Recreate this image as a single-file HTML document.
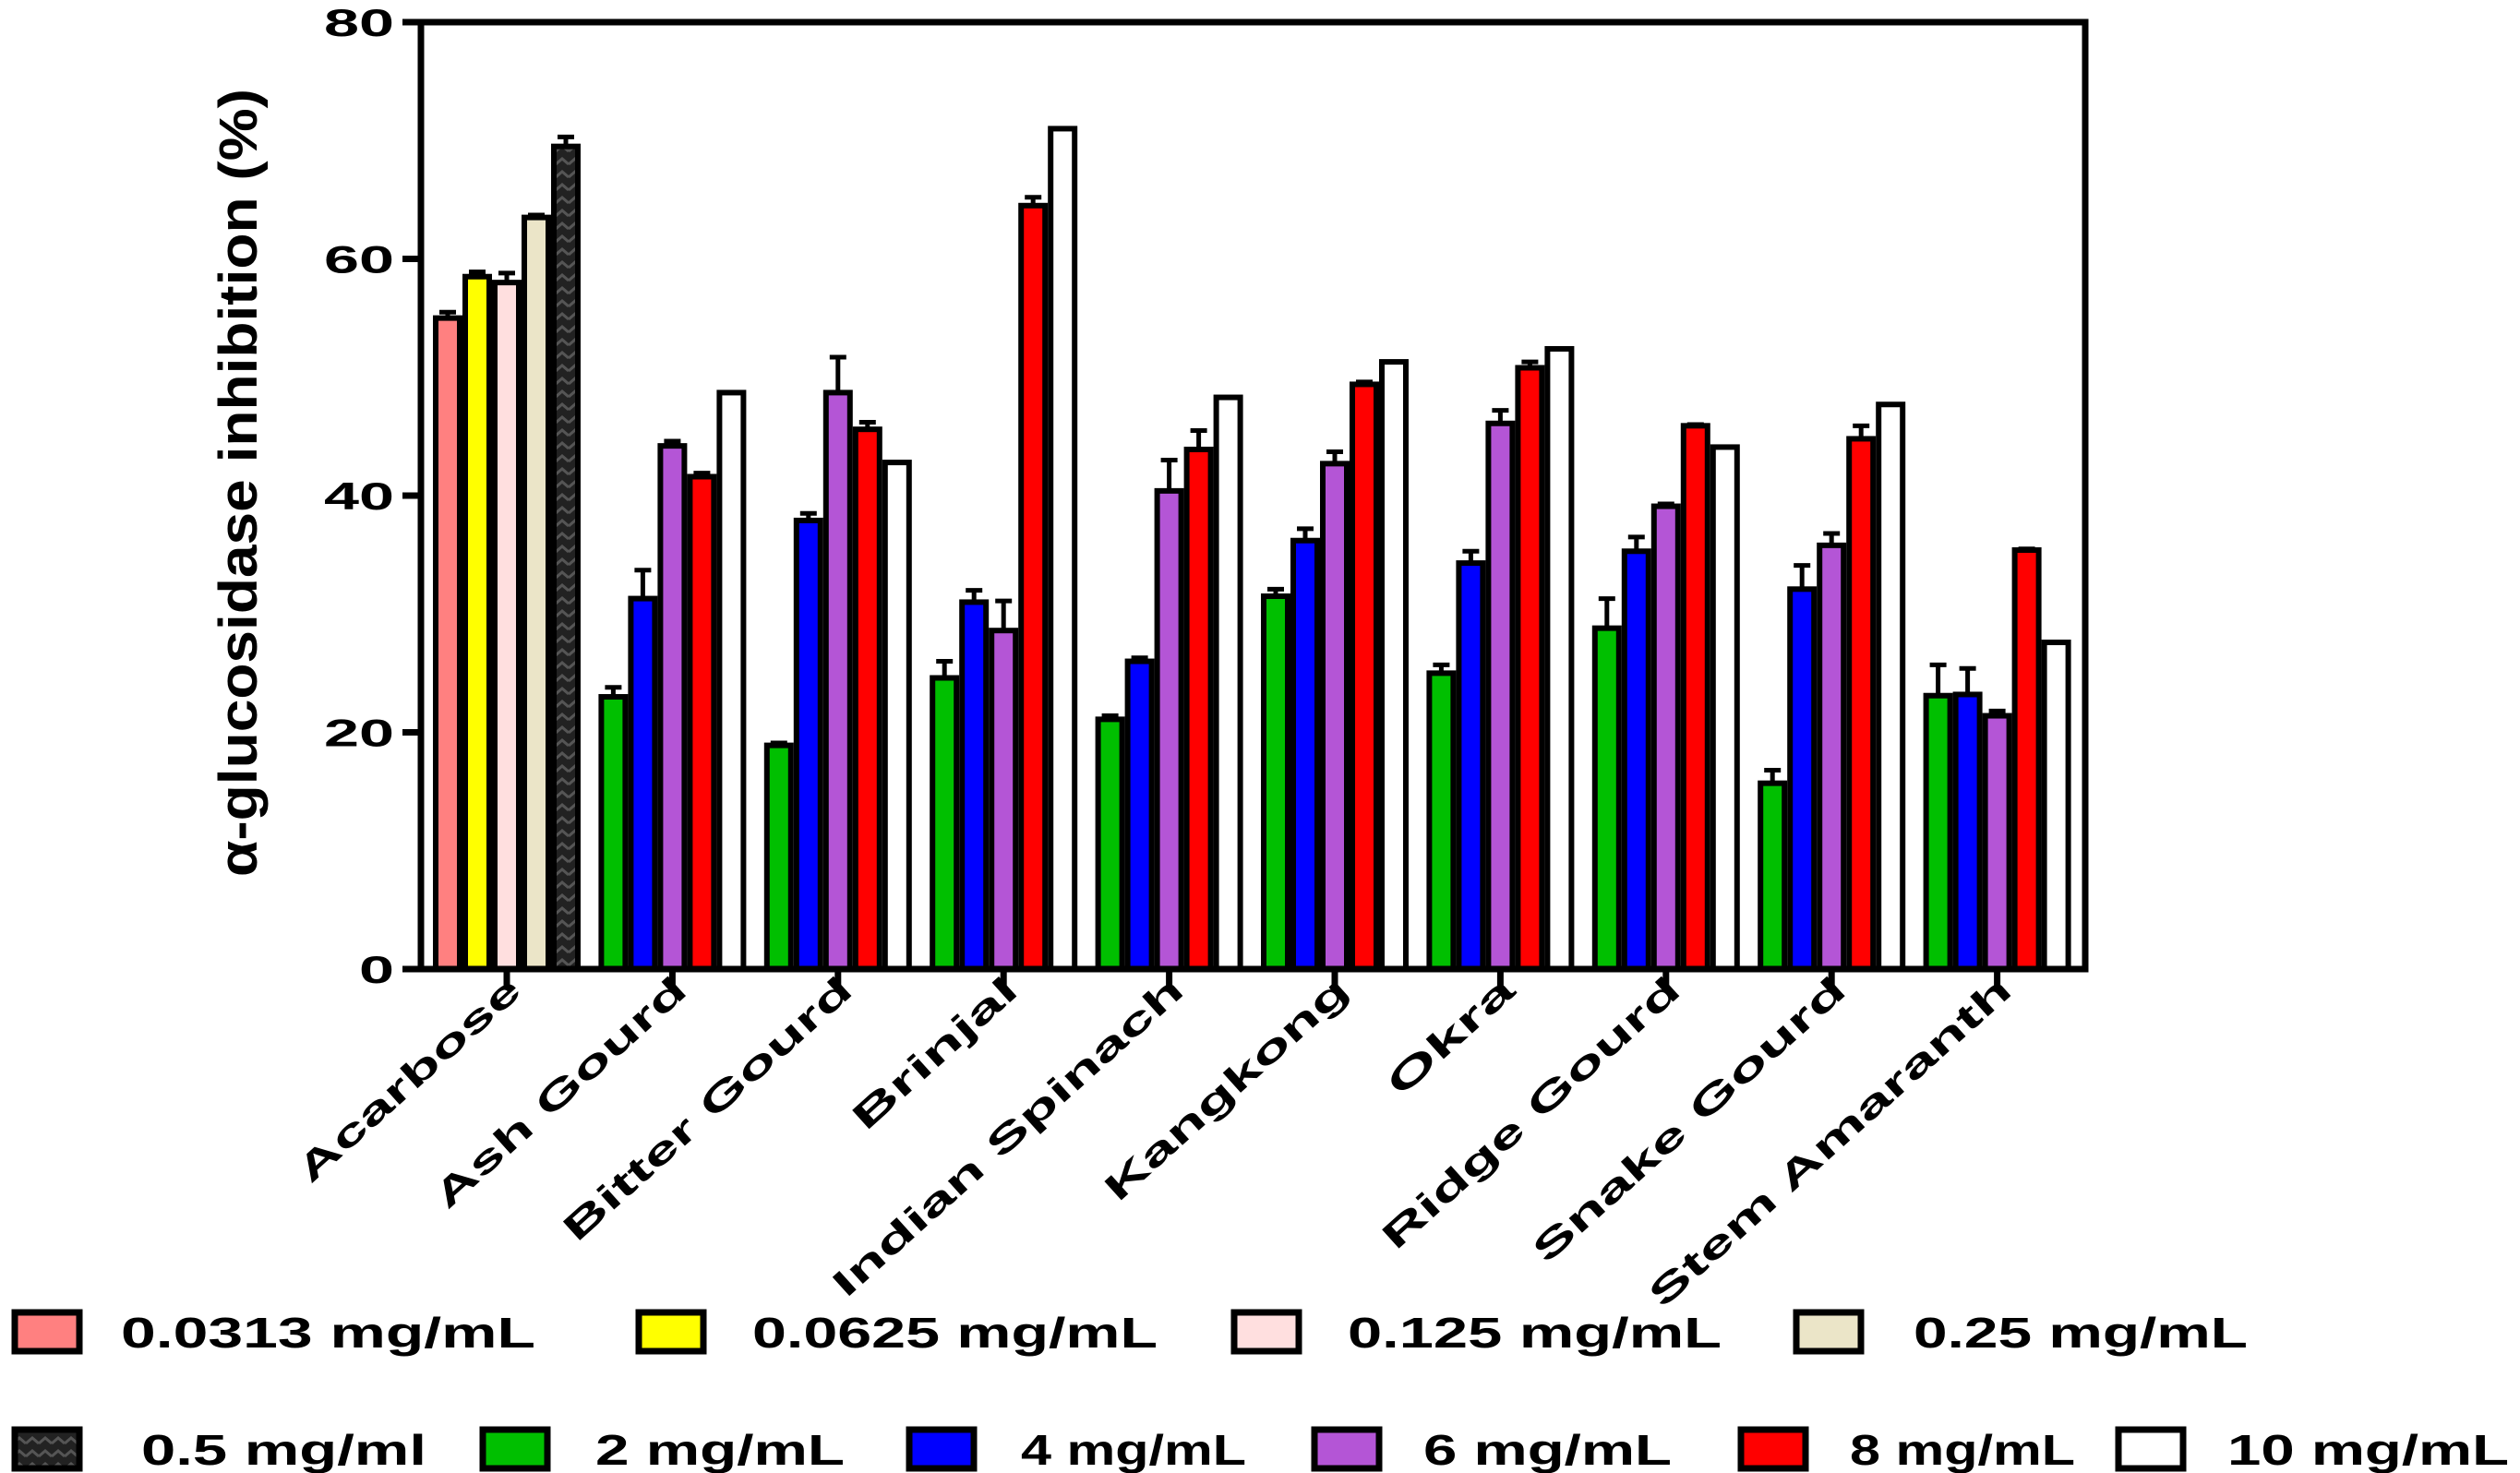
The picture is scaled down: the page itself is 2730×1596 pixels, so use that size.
<!DOCTYPE html>
<html><head><meta charset="utf-8">
<style>html,body{margin:0;padding:0;background:#fff}svg{display:block}
text{font-family:"Liberation Sans",sans-serif;font-weight:bold;fill:#000}</style></head>
<body>
<svg id="chart" width="2730" height="1596" viewBox="0 0 2730 1596" xmlns="http://www.w3.org/2000/svg">
<defs>
<pattern id="hatch" width="14" height="14" patternUnits="userSpaceOnUse">
<rect width="14" height="14" fill="#222"/>
<path d="M0 10 L7 4 L14 10" stroke="#555" stroke-width="3" fill="none"/>
</pattern>
</defs>
<g id="plot"></g>
<g id="legend"></g>
</svg>
<script>
const categories = ["Acarbose","Ash Gourd","Bitter Gourd","Brinjal","Indian Spinach","Kangkong","Okra","Ridge Gourd","Snake Gourd","Stem Amaranth"];
const labelLengths = [310,352,405,225,495,340,170,418,440,512];
const yTicks = [0,20,40,60,80];
const acarboseSeries = ["0.0313 mg/mL","0.0625 mg/mL","0.125 mg/mL","0.25 mg/mL","0.5 mg/ml"];
const acarboseValues = [55.0,58.5,58.0,63.5,69.5];
const acarboseErrors = [0.5,0.4,0.8,0.2,0.8];
const plantSeries = ["2 mg/mL","4 mg/mL","6 mg/mL","8 mg/mL","10 mg/mL"];
const plantValues = [
 [23.0,31.3,44.2,41.6,48.7],
 [18.9,37.9,48.7,45.6,42.8],
 [24.6,31.0,28.6,64.5,71.0],
 [21.1,26.0,40.4,43.9,48.3],
 [31.5,36.2,42.7,49.4,51.3],
 [25.0,34.3,46.1,50.8,52.4],
 [28.8,35.3,39.1,45.9,44.1],
 [15.7,32.1,35.8,44.8,47.7],
 [23.1,23.2,21.4,35.4,27.6]];
const plantErrors = [
 [0.8,2.4,0.4,0.3,0],
 [0.2,0.6,3.0,0.6,0],
 [1.4,1.0,2.5,0.7,0],
 [0.3,0.3,2.6,1.6,0],
 [0.6,1.0,1.0,0.2,0],
 [0.7,1.0,1.1,0.5,0],
 [2.5,1.2,0.2,0.1,0],
 [1.1,2.0,1.0,1.1,0],
 [2.6,2.2,0.4,0.1,0]];
const acarboseColors = ["#ff8080","#ffff00","#ffdfdf","#ebe5c8","url(#hatch)"];
const plantColors = ["#00bf00","#0000ff","#b455d6","#ff0000","#ffffff"];

const NS="http://www.w3.org/2000/svg";
const L=456,R=2259,T=24,B=1050;
const y=v=>B-(v/80)*(B-T);
const cx=i=>549+i*179.4;
const BW=32;
function mk(tag,attrs,parent){const e=document.createElementNS(NS,tag);for(const k in attrs)e.setAttribute(k,attrs[k]);parent.appendChild(e);return e;}
const plot=document.getElementById('plot');

function bar(i,j,v,err,fill,name){
  const x=cx(i)-2.5*BW+j*BW;
  if(err>0){
    const eb=mk('line',{x1:x+BW/2,x2:x+BW/2,y1:y(v),y2:y(v+err),stroke:'#000','stroke-width':5},plot);
    
    
    const cap=mk('line',{x1:x+BW/2-9,x2:x+BW/2+9,y1:y(v+err),y2:y(v+err),stroke:'#000','stroke-width':5},plot);
    
    
  }
  const r=mk('rect',{x:x+3,y:y(v),width:BW-6,height:B-y(v),fill:fill,stroke:'#000','stroke-width':6},plot);
  
  
}
acarboseValues.forEach((v,j)=>bar(0,j,v,acarboseErrors[j],acarboseColors[j],'bar-acarbose-'+j));
plantValues.forEach((row,k)=>row.forEach((v,j)=>bar(k+1,j,v,plantErrors[k][j],plantColors[j],'bar-'+categories[k+1].toLowerCase().replace(/ /g,'-')+'-'+j)));

const fr=mk('rect',{x:L,y:T,width:R-L,height:B-T,fill:'none',stroke:'#000','stroke-width':7},plot);


yTicks.forEach(t=>{
  const tk=mk('line',{x1:436,x2:L,y1:y(t),y2:y(t),stroke:'#000','stroke-width':7},plot);
  
  
  const s=String(t);
  const tx=mk('text',{x:427,y:y(t)+15,'text-anchor':'end','font-size':42,textLength:s.length*38,lengthAdjust:'spacingAndGlyphs'},plot);
  tx.textContent=s;
  
  
});
categories.forEach((c,i)=>{
  const tk=mk('line',{x1:cx(i),x2:cx(i),y1:B,y2:1068,stroke:'#000','stroke-width':7},plot);
  
  
  const tx=mk('text',{x:0,y:0,'text-anchor':'end','font-size':40,textLength:labelLengths[i],lengthAdjust:'spacingAndGlyphs',transform:`translate(${cx(i)+18},${1076}) rotate(-42)`},plot);
  tx.textContent=c;
  
  
});
const yt=mk('text',{x:0,y:0,'text-anchor':'middle','font-size':58,textLength:854,lengthAdjust:'spacingAndGlyphs',transform:'translate(278,523) rotate(-90)'},plot);
yt.textContent='α-glucosidase inhibition (%)';



const leg=document.getElementById('legend');
const legendLabels=acarboseSeries.concat(plantSeries);
const legendFills=acarboseColors.concat(plantColors);
const legendBoxX=[12,688,1333,1942, 12,519,981,1420,1882,2291];
const legendTextX=[131,815,1460,2073, 153,645,1106,1542,2004,2413];
const legendTextEnd=[580,1254,1865,2435, 462,915,1350,1811,2248,2718];
legendLabels.forEach((lab,k)=>{
  const row=k<4?0:1;
  const by=row?1549:1422;
  const b=mk('rect',{x:legendBoxX[k]+4,y:by,width:70,height:42,fill:legendFills[k],stroke:'#000','stroke-width':7},leg);
  
  
  const t=mk('text',{x:legendTextX[k],y:by+38,'font-size':46,textLength:legendTextEnd[k]-legendTextX[k],lengthAdjust:'spacingAndGlyphs'},leg);
  t.textContent=lab;
  
  
});
</script>
</body></html>
